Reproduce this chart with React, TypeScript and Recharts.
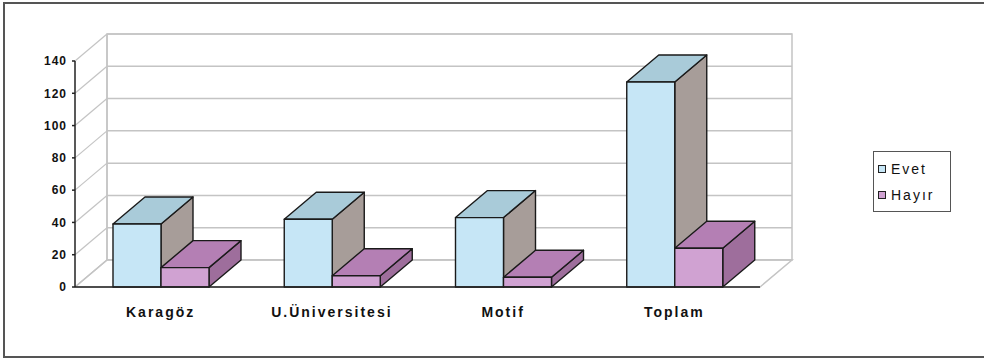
import React from "react";
import { BarChart, Bar, XAxis, YAxis, Legend, Customized } from "recharts";

const categories = ["Karagöz", "U.Üniversitesi", "Motif", "Toplam"];
const evet = [39, 42, 43, 127];
const hayir = [12, 7, 6, 24];
const yTicks = [0, 20, 40, 60, 80, 100, 120, 140];

const data = categories.map((name, i) => ({ name, Evet: evet[i], Hayır: hayir[i] }));

const W = 984;
const H = 360;
// plot area (front plane)
const L = 75;
const R = 760;
const T = 61;
const B = 287;
const DX = 32;
const DY = -27;
const YMAX = 140;

const font = "'Liberation Sans', Arial, sans-serif";

const yAt = (v: number) => T + (B - T) * (1 - v / YMAX);

const Walls = () => {
  const grid = "#c4c4c4";
  return (
    <g>
      <polygon points={`${L + DX},${T + DY} ${R + DX},${T + DY} ${R + DX},${B + DY} ${L + DX},${B + DY}`} fill="#fff" stroke={grid} strokeWidth={1.5} />
      <polygon points={`${L},${B} ${R},${B} ${R + DX},${B + DY} ${L + DX},${B + DY}`} fill="#fff" stroke={grid} strokeWidth={1.5} />
      {yTicks.map((v) => (
        <g key={v}>
          <line x1={L} y1={yAt(v)} x2={L + DX} y2={yAt(v) + DY} stroke={grid} strokeWidth={1.2} />
          <line x1={L + DX} y1={yAt(v) + DY} x2={R + DX} y2={yAt(v) + DY} stroke={grid} strokeWidth={1.5} />
        </g>
      ))}
      <line x1={L + DX} y1={T + DY} x2={L + DX} y2={B + DY} stroke={grid} strokeWidth={1.5} />
    </g>
  );
};

const makeBox = (front: string, top: string, side: string) => (props: any) => {
  const { x, y, width, height } = props;
  if (width == null || height == null) return null;
  const x2 = x + width;
  const y2 = y + height;
  const edge = { stroke: "#1a1a1a", strokeWidth: 1.4, strokeLinejoin: "round" as const };
  return (
    <g>
      <polygon points={`${x2},${y} ${x2 + DX},${y + DY} ${x2 + DX},${y2 + DY} ${x2},${y2}`} fill={side} {...edge} />
      <polygon points={`${x},${y} ${x + DX},${y + DY} ${x2 + DX},${y + DY} ${x2},${y}`} fill={top} {...edge} />
      <rect x={x} y={y} width={width} height={height} fill={front} {...edge} />
    </g>
  );
};

const EvetBox = makeBox("#c6e6f6", "#a9cbd9", "#a79d99");
const HayirBox = makeBox("#d0a2d2", "#b47fb4", "#9e6e9c");

const LegendBox = () => (
  <div style={{ fontFamily: font, fontSize: 14, letterSpacing: 2, color: "#111", padding: "4px 0 0 4px" }}>
    {[
      { label: "Evet", fill: "#c6e6f6" },
      { label: "Hayır", fill: "#d0a2d2" },
    ].map((e) => (
      <div key={e.label} style={{ display: "flex", alignItems: "center", height: 26 }}>
        <span style={{ display: "inline-block", width: 6, height: 6, background: e.fill, border: "1.5px solid #222", marginRight: 5 }} />
        <span>{e.label}</span>
      </div>
    ))}
  </div>
);

export default function App() {
  return (
    <div style={{ position: "fixed", left: 0, top: 0, width: W, height: H, overflow: "hidden", background: "#fff" }}>
      <div style={{ position: "absolute", left: 3, top: 2, width: 1000, height: 356, border: "2px solid #555", boxSizing: "border-box" }} />
      <div style={{ position: "absolute", left: 0, top: 0 }}>
        <BarChart
          width={W}
          height={H}
          data={data}
          margin={{ top: T, right: W - R, left: L - 60, bottom: H - B - 30 }}
          barGap={0}
          barSize={48}
        >
          <Customized component={Walls} />
          <XAxis
            dataKey="name"
            tickLine={false}
            axisLine={{ stroke: "#222", strokeWidth: 1.5 }}
            tickMargin={14}
            tick={{ fontSize: 14, fill: "#111", fontFamily: font, fontWeight: "bold", letterSpacing: 2 }}
          />
          <YAxis
            width={60}
            domain={[0, YMAX]}
            ticks={yTicks}
            interval={0}
            tickSize={3}
            tickMargin={5}
            axisLine={{ stroke: "#222", strokeWidth: 1.5 }}
            tickLine={{ stroke: "#222", strokeWidth: 1.5 }}
            tick={{ fontSize: 12, fill: "#111", fontFamily: font, fontWeight: "bold", letterSpacing: 1 }}
          />
          <Legend
            layout="vertical"
            align="center"
            verticalAlign="middle"
            content={<LegendBox />}
            wrapperStyle={{ left: 873, top: 151, width: 78, height: 61, border: "1.5px solid #555", boxSizing: "border-box", background: "#fff" }}
          />
          <Bar dataKey="Evet" shape={EvetBox} isAnimationActive={false} />
          <Bar dataKey="Hayır" shape={HayirBox} isAnimationActive={false} />
        </BarChart>
      </div>
    </div>
  );
}
